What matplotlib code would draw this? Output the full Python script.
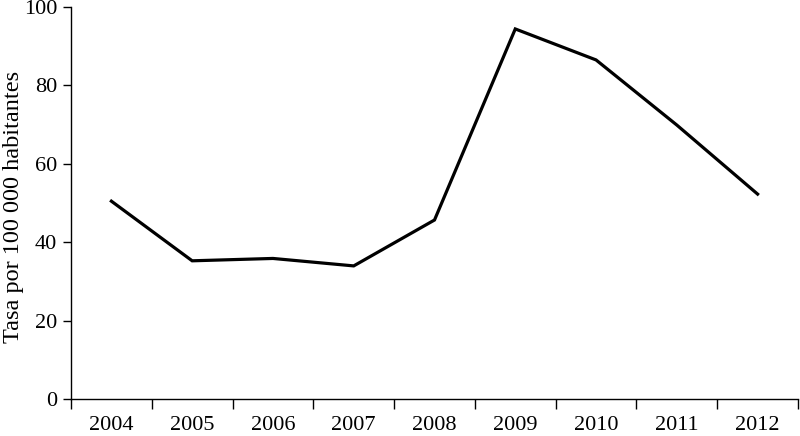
import matplotlib
matplotlib.use("Agg")
import matplotlib.pyplot as plt

# Datos
years = ["2004", "2005", "2006", "2007", "2008", "2009", "2010", "2011", "2012"]
rates = [50.5, 35.3, 35.9, 34.0, 45.7, 94.4, 86.5, 69.9, 52.3]

plt.rcParams['font.family'] = ['Liberation Serif', 'DejaVu Serif']

fig = plt.figure(figsize=(8, 4.36), dpi=100)
ax = fig.add_axes([0.08875, 0.0842, 0.90875, 0.8998])

x = list(range(len(years)))
ax.plot(x, rates, color='black', linewidth=2.3, solid_joinstyle='miter')

ax.set_xlim(-0.5, len(years) - 0.5)
ax.set_ylim(0, 100)
ax.set_yticks([0, 20, 40, 60, 80, 100])
ax.set_xticks(x)
ax.set_xticklabels(years)
ax.tick_params(axis='x', which='major', length=0, pad=12, labelsize=16)
# marcas entre categorías
ax.set_xticks([i + 0.5 for i in range(-1, len(years))], minor=True)
ax.tick_params(axis='x', which='minor', length=7, width=1.0, direction='out')
ax.tick_params(axis='y', length=6, width=1.0, direction='out', labelsize=16, pad=4)

ax.spines['top'].set_visible(False)
ax.spines['right'].set_visible(False)
ax.spines['left'].set_linewidth(1.0)
ax.spines['bottom'].set_linewidth(1.0)

ax.set_ylabel('Tasa por 100 000 habitantes', fontsize=17.5)
ax.yaxis.set_label_coords(-0.064, 0.49)

fig.savefig('out.png', dpi=100)
